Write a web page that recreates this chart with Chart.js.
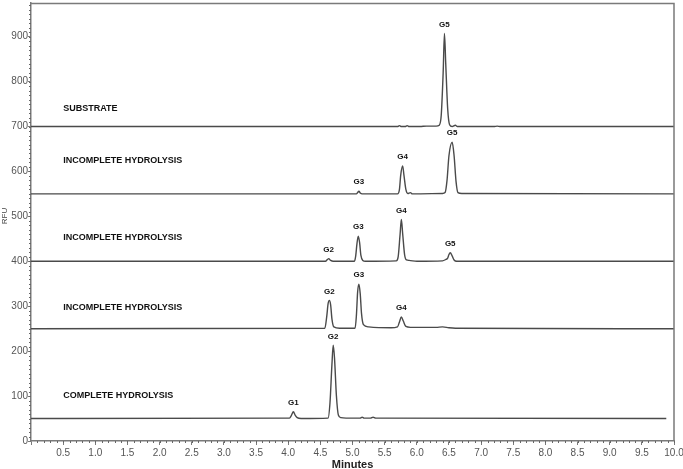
<!DOCTYPE html>
<html>
<head>
<meta charset="utf-8">
<script src="https://cdn.jsdelivr.net/npm/chart.js@4.4.1/dist/chart.umd.min.js"></script>
<style>
  html, body { margin: 0; padding: 0; background: #fff; }
  #wrap { width: 683px; height: 469px; }
</style>
</head>
<body>
<div id="wrap"><canvas id="myChart"></canvas></div>
<script>
// chromatogram traces, [minutes, RFU]
const substrate = [
  [0, 700], [5.70, 700], [5.73, 702], [5.76, 700], [5.82, 700], [5.85, 702], [5.88, 700],
  [6.05, 700], [6.15, 701], [6.30, 701], [6.35, 703], [6.38, 725], [6.41, 820], [6.43, 907],
  [6.45, 840], [6.48, 740], [6.51, 704], [6.55, 700], [6.60, 703], [6.63, 700],
  [7.20, 700], [7.25, 701], [7.30, 700], [10, 700]
];
const incomplete1 = [
  [0, 550], [5.06, 550], [5.08, 553], [5.10, 556], [5.12, 552], [5.15, 550], [5.70, 550],
  [5.73, 560], [5.75, 592], [5.78, 612], [5.80, 592], [5.83, 560], [5.86, 551], [5.90, 553],
  [5.93, 550], [6.40, 551], [6.44, 553], [6.47, 580], [6.50, 635], [6.55, 665], [6.58, 635],
  [6.61, 578], [6.64, 553], [6.70, 551], [10, 550]
];
const incomplete2 = [
  [0, 400], [4.58, 400], [4.61, 404], [4.63, 406], [4.66, 402], [4.70, 400], [5.03, 400],
  [5.05, 412], [5.07, 440], [5.09, 456], [5.11, 442], [5.13, 414], [5.16, 402], [5.20, 400],
  [5.68, 401], [5.71, 410], [5.74, 460], [5.76, 493], [5.78, 462], [5.81, 415], [5.84, 403],
  [5.88, 402], [6.00, 400], [6.40, 401], [6.45, 404], [6.48, 407], [6.50, 415], [6.52, 419],
  [6.55, 412], [6.58, 403], [6.62, 400], [10, 400]
];
const incomplete3 = [
  [0, 250], [4.57, 251], [4.60, 278], [4.62, 305], [4.64, 313], [4.66, 303], [4.68, 272],
  [4.71, 254], [4.80, 251], [5.04, 251], [5.06, 278], [5.08, 332], [5.10, 349], [5.12, 328],
  [5.14, 284], [5.17, 259], [5.25, 254], [5.60, 252], [5.70, 254], [5.73, 265], [5.76, 276],
  [5.79, 267], [5.83, 255], [5.90, 253], [6.30, 253], [6.40, 254], [6.50, 252], [6.60, 251],
  [10, 250]
];
const complete = [
  [0, 50], [4.02, 51], [4.05, 57], [4.08, 65], [4.11, 57], [4.14, 52], [4.20, 50],
  [4.62, 51], [4.65, 85], [4.68, 170], [4.70, 213], [4.72, 185], [4.75, 100], [4.78, 58],
  [4.82, 52], [4.90, 51], [5.12, 51], [5.15, 53], [5.18, 51], [5.28, 51], [5.32, 53],
  [5.36, 51], [9.88, 50]
];

const traceNames = ['SUBSTRATE', 'INCOMPLETE HYDROLYSIS', 'INCOMPLETE HYDROLYSIS',
  'INCOMPLETE HYDROLYSIS', 'COMPLETE HYDROLYSIS'];
const baselines = [700, 550, 400, 250, 50];

// peak names and their retention times (apex x in each trace)
const peakNames = [['G5'], ['G3', 'G4', 'G5'], ['G2', 'G3', 'G4', 'G5'], ['G2', 'G3', 'G4'], ['G1', 'G2']];
const peakTimes = [[6.43], [5.10, 5.78, 6.55], [4.63, 5.09, 5.76, 6.52], [4.64, 5.10, 5.76], [4.08, 4.70]];

const yTicks = [0, 100, 200, 300, 400, 500, 600, 700, 800, 900];

const traces = [substrate, incomplete1, incomplete2, incomplete3, complete];
const lineColor = '#4a4a4a';
const axisColor = '#7a7a7a';
const fontFam = '"Liberation Sans", Arial, sans-serif';

const labelOffsets = [40, 74, 53, 48, 52]; // trace title height above its baseline

const chromPlugin = {
  id: 'chrom',
  afterDraw(chart) {
    const { ctx, chartArea: a, scales: { x, y } } = chart;
    ctx.save();
    // frame
    ctx.strokeStyle = axisColor;
    ctx.lineWidth = 1.5;
    ctx.beginPath();
    ctx.moveTo(a.left, a.top + 0.5);
    ctx.lineTo(a.right, a.top + 0.5);
    ctx.lineTo(a.right, a.bottom);
    ctx.stroke();
    // minor ticks
    ctx.lineWidth = 1;
    ctx.strokeStyle = '#666';
    ctx.beginPath();
    for (let v = 0.1; v < 10; v += 0.1) {
      const px = Math.round(x.getPixelForValue(v)) + 0.5;
      ctx.moveTo(px, a.bottom);
      ctx.lineTo(px, a.bottom + 2);
    }
    for (let v = 10; v < 975; v += 10) {
      const py = Math.round(y.getPixelForValue(v)) + 0.5;
      ctx.moveTo(a.left - 2, py);
      ctx.lineTo(a.left, py);
    }
    ctx.stroke();
    // y title
    ctx.fillStyle = '#444';
    ctx.font = '8px ' + fontFam;
    ctx.textAlign = 'center';
    ctx.textBaseline = 'middle';
    ctx.translate(4.5, 216);
    ctx.rotate(-Math.PI / 2);
    ctx.fillText('RFU', 0, 0);
    ctx.setTransform(1, 0, 0, 1, 0, 0);
    // trace titles
    ctx.fillStyle = '#111';
    ctx.font = 'bold 9px ' + fontFam;
    ctx.textBaseline = 'middle';
    ctx.textAlign = 'left';
    traceNames.forEach((n, i) => {
      ctx.fillText(n, x.getPixelForValue(0.5), y.getPixelForValue(baselines[i] + labelOffsets[i]));
    });
    // peak labels
    ctx.font = 'bold 8px ' + fontFam;
    ctx.textAlign = 'center';
    ctx.textBaseline = 'bottom';
    peakNames.forEach((names, i) => {
      names.forEach((n, j) => {
        const t = peakTimes[i][j];
        const pt = traces[i].find(p => p[0] === t);
        ctx.fillText(n, x.getPixelForValue(t), y.getPixelForValue(pt[1]) - 5);
      });
    });
    ctx.restore();
  }
};

const ctx = document.getElementById('myChart');
const myChart = new Chart(ctx, {
  type: 'line',
  data: {
    datasets: traces.map(tr => ({
      data: tr.map(p => ({ x: p[0], y: p[1] })),
      borderColor: lineColor,
      borderWidth: 1.4,
      pointRadius: 0,
      fill: false,
      cubicInterpolationMode: 'monotone'
    }))
  },
  options: {
    responsive: true,
    maintainAspectRatio: false,
    animation: false,
    layout: { padding: { top: 3, right: 0, left: 0, bottom: 0 } },
    plugins: { legend: { display: false }, tooltip: { enabled: false } },
    scales: {
      x: {
        type: 'linear',
        min: 0,
        max: 10,
        afterFit(s) { s.height = 28; s.paddingLeft = 0; s.paddingRight = 9; },
        ticks: {
          stepSize: 0.5,
          color: '#555',
          padding: 2,
          maxRotation: 0,
          autoSkip: false,
          font: { family: fontFam, size: 10 },
          callback: v => (v === 0 ? '' : v.toFixed(1))
        },
        grid: { drawOnChartArea: false, drawTicks: true, tickLength: 4, color: axisColor },
        border: { color: axisColor, width: 1.5 },
        title: {
          display: true,
          text: 'Minutes',
          color: '#222',
          padding: { top: 0, bottom: -3 },
          font: { family: fontFam, size: 11, weight: 'bold' }
        }
      },
      y: {
        min: 0,
        max: 975,
        afterFit(s) { s.width = 31; s.paddingTop = 0; s.paddingBottom = 0; },
        afterBuildTicks(s) { s.ticks = yTicks.map(v => ({ value: v })); },
        ticks: {
          color: '#555',
          padding: 0,
          font: { family: fontFam, size: 10 }
        },
        grid: { drawOnChartArea: false, drawTicks: true, tickLength: 3, color: axisColor },
        border: { color: axisColor, width: 1.5 }
      }
    }
  },
  plugins: [chromPlugin]
});
</script>
</body>
</html>
